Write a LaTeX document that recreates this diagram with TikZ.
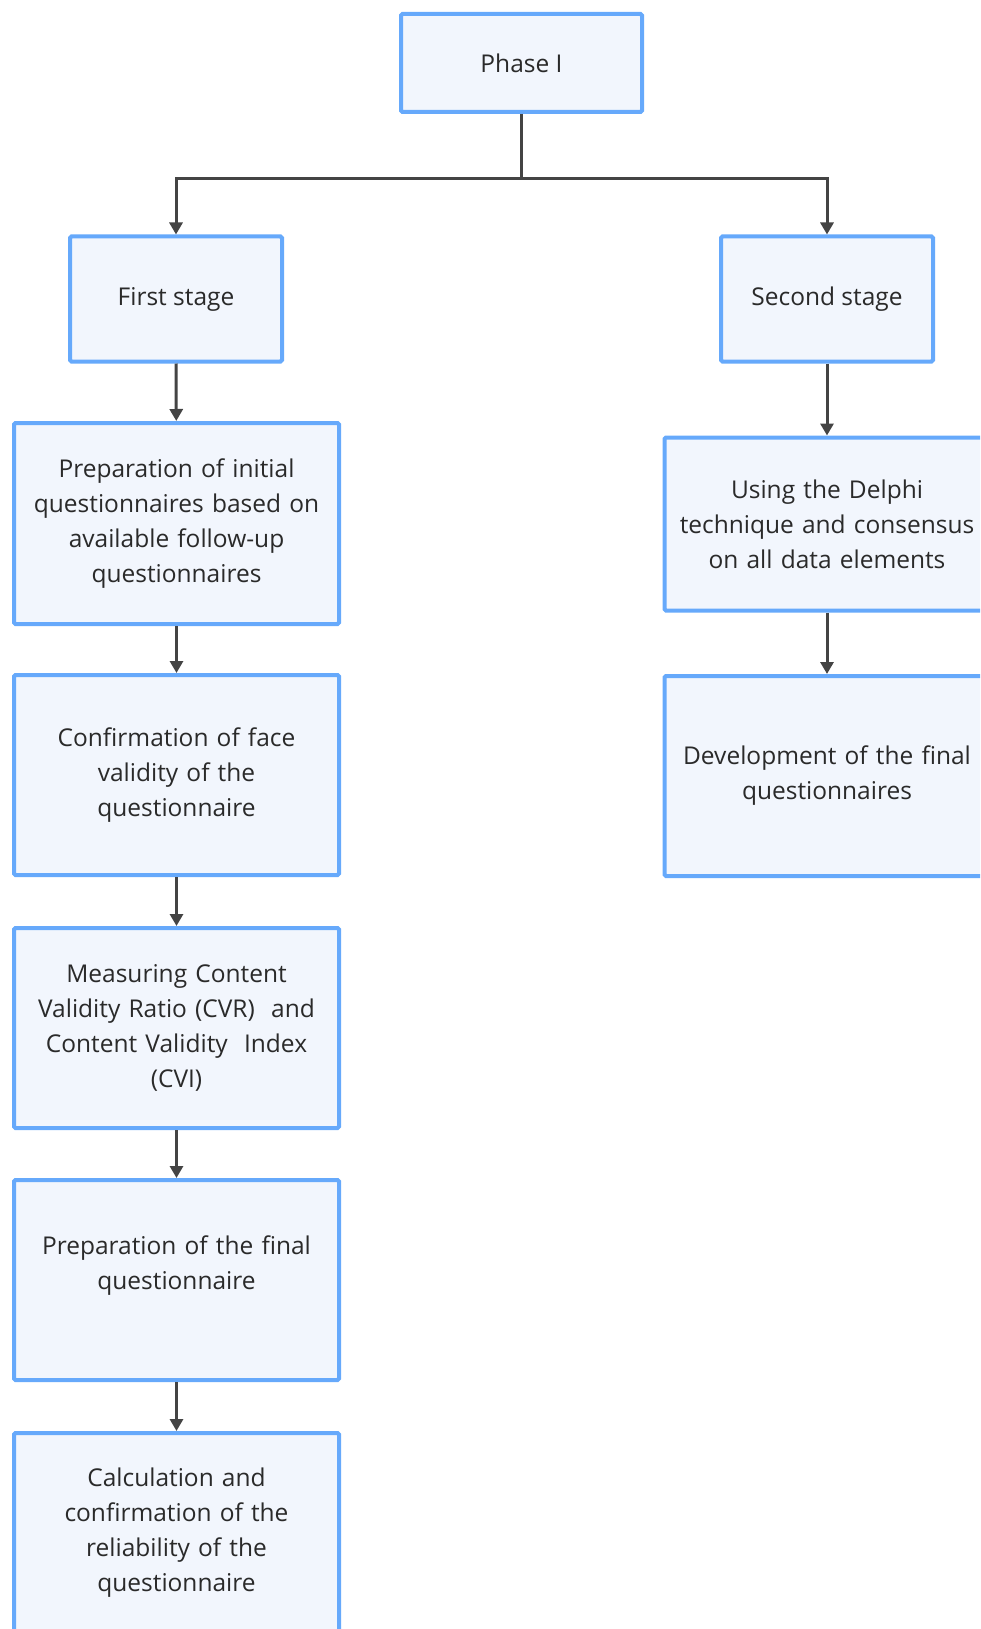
\documentclass[tikz,border=0pt]{standalone}
\usepackage{fontspec}
\setmainfont{Open Sans}
\usetikzlibrary{arrows.meta}
\definecolor{boxblue}{HTML}{66A9FB}
\definecolor{boxfill}{HTML}{F2F6FD}
\definecolor{linkgray}{HTML}{444444}
\definecolor{textgray}{HTML}{2A2A2A}

\begin{document}
\begin{tikzpicture}[x=1pt, y=-1pt,
		stagebox/.style={draw=boxblue, fill=boxfill, line width=4pt, rounded corners=1.5pt,
			text=textgray, align=center, inner sep=0pt,
			font=\fontsize{24.5}{35}\selectfont},
		wide/.style={stagebox, minimum width=325pt, text width=310pt},
		link/.style={draw=linkgray, line width=3pt},
		>={Triangle[width=13pt,length=12pt]}]

	\useasboundingbox (0,0) rectangle (980,1629);
	\clip (0,0) rectangle (980,1629);

	% top of the tree
	\node[stagebox, minimum width=241pt, minimum height=98pt] (phase) at (521.5,63) {Phase I};
	\node[stagebox, minimum width=212pt, minimum height=125pt] (first) at (176,299) {First stage};
	\node[stagebox, minimum width=212pt, minimum height=125pt] (second) at (827,299) {Second stage};
	\coordinate (split) at (521.5,179);

	% first stage column
	\node[wide, minimum height=201pt] (prep) at (176.5,523.5)
		{Preparation of initial\\questionnaires based on\\available follow-up\\questionnaires};
	\node[wide, minimum height=200pt] (face) at (176.5,775)
		{Confirmation of face\\validity of the\\questionnaire};
	\node[wide, minimum height=200pt] (cvr) at (176.5,1028)
		{Measuring Content\\Validity Ratio (CVR)\ \ and\\Content Validity\ \ Index\\(CVI)};
	\node[wide, minimum height=200pt] (final) at (176.5,1280)
		{Preparation of the final\\questionnaire\\\mbox{}};
	\node[wide, minimum height=200pt] (rel) at (176.5,1533)
		{Calculation and\\confirmation of the\\reliability of the\\questionnaire};

	% second stage column
	\node[wide, minimum height=173pt] (delphi) at (827,524)
		{Using the Delphi\\technique and consensus\\on all data elements};
	\node[wide, minimum height=200pt] (develop) at (827,776)
		{Development of the final\\questionnaires};

	\draw[link] (phase.south) -- (split);
	\draw[link,->] (split) -| (first.north);
	\draw[link,->] (split) -| (second.north);

	\draw[link,->] (first) -- (prep);
	\draw[link,->] (prep) -- (face);
	\draw[link,->] (face) -- (cvr);
	\draw[link,->] (cvr) -- (final);
	\draw[link,->] (final) -- (rel);

	\draw[link,->] (second) -- (delphi);
	\draw[link,->] (delphi) -- (develop);
\end{tikzpicture}
\end{document}
